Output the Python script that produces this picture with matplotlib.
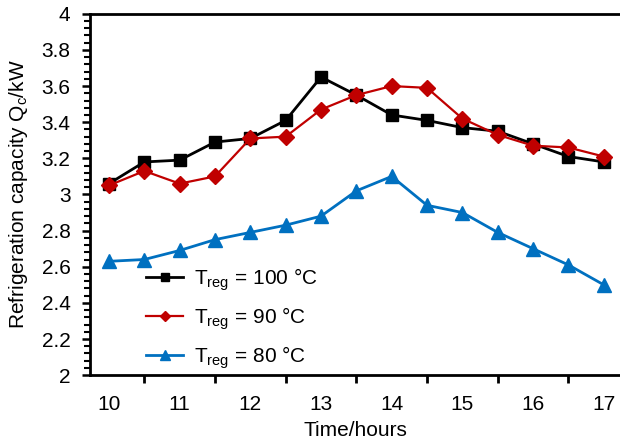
import matplotlib.pyplot as plt
from matplotlib.ticker import MultipleLocator

plt.rcParams['font.family'] = ['Liberation Sans', 'DejaVu Sans']
plt.rcParams['mathtext.default'] = 'regular'

hours = [10, 10.5, 11, 11.5, 12, 12.5, 13, 13.5, 14, 14.5, 15, 15.5, 16, 16.5, 17]
q_100 = [3.06, 3.18, 3.19, 3.29, 3.31, 3.41, 3.65, 3.55, 3.44, 3.41, 3.37, 3.35, 3.28, 3.21, 3.18]
q_90 = [3.05, 3.13, 3.06, 3.10, 3.31, 3.32, 3.47, 3.55, 3.60, 3.59, 3.42, 3.33, 3.27, 3.26, 3.21]
q_80 = [2.63, 2.64, 2.69, 2.75, 2.79, 2.83, 2.88, 3.02, 3.10, 2.94, 2.90, 2.79, 2.70, 2.61, 2.50]

labels = ['T$_{reg}$ = 100 °C', 'T$_{reg}$ = 90 °C', 'T$_{reg}$ = 80 °C']

fig = plt.figure(figsize=(6.2, 4.45), dpi=100)
ax = fig.add_axes([0.145, 0.157, 0.855, 0.812])

ax.plot(hours, q_100, color='black', marker='s', markersize=9, linewidth=2, label=labels[0])
ax.plot(hours, q_90, color='#c00000', marker='D', markersize=8, linewidth=1.6, label=labels[1])
ax.plot(hours, q_80, color='#0070c0', marker='^', markersize=10, linewidth=2, label=labels[2])

ax.set_xlim(9.73, 17.23)
ax.set_ylim(2, 4)
ax.set_xticks(range(10, 18))
ax.xaxis.set_minor_locator(MultipleLocator(0.5))
ax.yaxis.set_major_locator(MultipleLocator(0.2))
ax.yaxis.set_minor_locator(MultipleLocator(0.04))
ax.set_yticklabels([f'{v:g}' for v in ax.get_yticks()])

ax.spines['right'].set_visible(False)
for s in ['left', 'bottom', 'top']:
    ax.spines[s].set_linewidth(2)

ax.tick_params(axis='both', which='major', labelsize=15, width=1.8, length=6)
ax.tick_params(axis='y', which='major', pad=8)
ax.tick_params(axis='both', which='minor', width=1.5, length=4)
ax.tick_params(axis='x', which='major', length=0, pad=14)
ax.tick_params(axis='x', which='minor', length=6, width=2)
ax.tick_params(axis='x', which='both', direction='out')

ax.set_xlabel('Time/hours', fontsize=15, labelpad=5)
ax.set_ylabel('Refrigeration capacity Q$_c$/kW', fontsize=15, labelpad=8)

ax.legend(loc='lower left', bbox_to_anchor=(0.07, -0.04), frameon=False, fontsize=15,
          handlelength=1.8, handletextpad=0.5, labelspacing=0.6, markerscale=0.7)

fig.savefig('out.png', dpi=100)
